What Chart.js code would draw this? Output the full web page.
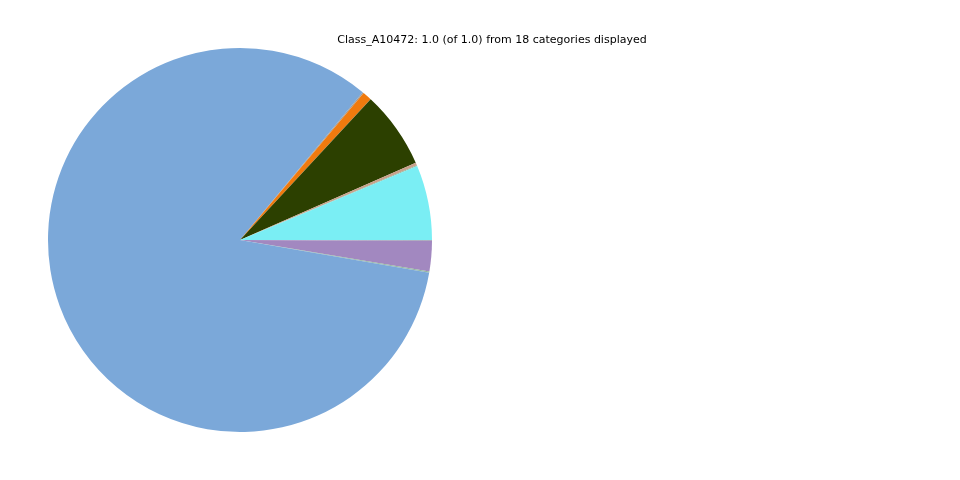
<!DOCTYPE html>
<html>
<head>
<meta charset="utf-8">
<script src="https://cdn.jsdelivr.net/npm/chart.js@4/dist/chart.umd.min.js"></script>
<style>
  html, body { margin: 0; padding: 0; background: #ffffff; }
  #wrap { width: 960px; height: 480px; position: relative; }
</style>
</head>
<body>
<div id="wrap"><canvas id="pieChart" width="960" height="480"></canvas></div>
<script>
// --- Data (matplotlib order: counter-clockwise from 3 o'clock) ---
const titleText = 'Class_A10472: 1.0 (of 1.0) from 18 categories displayed';
const categories = [
    'cat_01', 'cat_02', 'cat_03', 'cat_04', 'cat_05', 'cat_06',
    'cat_07', 'cat_08', 'cat_09', 'cat_10', 'cat_11', 'cat_12',
    'cat_13', 'cat_14', 'cat_15', 'cat_16', 'cat_17', 'cat_18'
];
const shares = [
    0.0630, 0.0008, 0.0022, 0.0650, 0.0002, 0.0076,
    0.0010, 0.8340, 0.0002, 0.0008, 0.0254, 0.0001,
    0.0001, 0.0001, 0.0001, 0.0001, 0.0001, 0.0003
];
const colors = [
    '#7aeef4', '#8fae90', '#c9a08a', '#2c4000', '#5a6a3a', '#f07a0e',
    '#9a9a9a', '#7ba8d9', '#6f9a9a', '#8fb59a', '#a288c0', '#8a8aa0',
    '#8a8aa0', '#8a8aa0', '#8a8aa0', '#8a8aa0', '#8a8aa0', '#7a7a9a'
];

document.addEventListener('DOMContentLoaded', () => {
    // Chart.js draws clockwise, so reverse the order and start at 3 o'clock
    const labels = categories.slice().reverse();
    const values = shares.slice().reverse();
    const bg = colors.slice().reverse();

    // title drawn at a fixed spot, like the matplotlib suptitle
    const titlePlugin = {
        id: 'fixedTitle',
        afterDraw(chart) {
            const ctx = chart.ctx;
            ctx.save();
            ctx.font = '11px "DejaVu Sans", sans-serif';
            ctx.fillStyle = '#000000';
            ctx.textAlign = 'center';
            ctx.textBaseline = 'middle';
            ctx.fillText(titleText, 492, 40);
            ctx.restore();
        }
    };

    new Chart(document.getElementById('pieChart'), {
        type: 'pie',
        data: {
            labels: labels,
            datasets: [{
                data: values,
                backgroundColor: bg,
                borderWidth: 0
            }]
        },
        options: {
            responsive: false,
            animation: false,
            rotation: 90,
            layout: {
                padding: { left: 48, right: 528, top: 48, bottom: 48 }
            },
            plugins: {
                legend: { display: false },
                tooltip: { enabled: false },
                title: { display: false }
            }
        },
        plugins: [titlePlugin]
    });
});
</script>
</body>
</html>
